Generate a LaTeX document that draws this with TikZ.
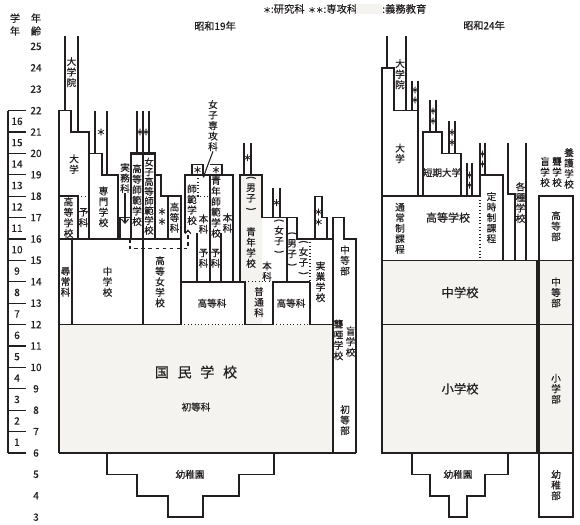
\documentclass[tikz,border=0pt]{standalone}
\usepackage{fontspec}
\setmainfont{Noto Sans CJK JP}[FakeBold=0.5]
\usetikzlibrary{arrows.meta}
\definecolor{ink}{RGB}{35,31,32}
\definecolor{gimu}{RGB}{244,243,240}
\newcommand{\upar}{\rotatebox[origin=c]{-90}{(}}
\newcommand{\dnpar}{\rotatebox[origin=c]{-90}{)}}
\newcommand{\lgstar}{{\fontsize{6.5}{6.5}\selectfont ＊}}
\begin{document}
\begin{tikzpicture}[x=0.3mm,y=6.42mm,
    wall/.style={draw=ink,line width=1.4pt},
    bold/.style={draw=ink,line width=1.9pt},
    rule/.style={draw=ink,line width=0.9pt},
    dots/.style={draw=ink,line width=0.9pt,dotted},
    lbl/.style={align=center,inner sep=0pt,text=ink,font=\fontsize{8.2}{9}\selectfont},
    tl/.style={inner sep=0pt,text=ink,font=\fontsize{10.5}{12}\selectfont},
    star/.style={align=center,inner sep=0pt,text=ink,font=\fontsize{7.5}{8.6}\selectfont}]
    \useasboundingbox (0,2.636) rectangle (580,27.168);
    % legend
    \node[lbl,anchor=west,font=\fontsize{8.8}{9}\selectfont](lgken) at (263,26.75) {\lgstar:研究科};
    \node[lbl,anchor=west,font=\fontsize{8.8}{9}\selectfont](lgsen) at (308,26.75) {\lgstar\lgstar:専攻科};
    \fill[gimu] (356,26.5) rectangle (382,26.98);
    \node[lbl,anchor=west,font=\fontsize{8.8}{9}\selectfont](lggimu) at (382,26.75) {:義務教育};
    \node[lbl,font=\fontsize{8.6}{9}\selectfont](t19) at (215,25.95) {昭和19年};
    \node[lbl,font=\fontsize{8.6}{9}\selectfont](t24) at (484,25.98) {昭和24年};
    % 学年・年齢
    \node[lbl,font=\fontsize{8.6}{11}\selectfont](hgaku) at (15,26.02) {学\\年};
    \node[lbl,font=\fontsize{8.6}{11}\selectfont](hnen) at (36,26.02) {年\\齢};
    \draw[rule] (8,22) -- (8,6);
    \foreach \a in {6,...,22} \draw[rule] (8,\a) -- (26,\a);
    \foreach \a in {3,...,25} \node[lbl,font=\fontsize{8.6}{9}\selectfont](age\a) at (36,\a) {\a};
    \foreach \g in {1,...,16} \node[lbl,font=\fontsize{8.6}{9}\selectfont](gr\g) at (17,\g+5.5) {\g};

    % ---- 昭和19年
    \fill[gimu] (59,6) rectangle (333,12);
    \fill[gimu] (240,14) rectangle (262,19);
    \fill[gimu] (245,12) rectangle (262,14);
    % 大学院・大学
    \draw[rule] (65,25.5) -- (65,22) (78,25.5) -- (78,21);
    \node[lbl](dgin19) at (71.5,23.8) {大\\学\\院};
    \draw[wall] (59,6) -- (59,22) -- (71,22) -- (71,21) -- (89,21) -- (89,16);
    \node[lbl](dai19) at (74,19.5) {大\\学};
    \draw[wall] (59,18) -- (78,18) -- (78,16);
    \draw[dots] (78,18) -- (89,18);
    \node[lbl](kokou19) at (68.5,17) {高\\等\\学\\校};
    \node[lbl](yoka19) at (83.5,17) {予\\科};
    \node[lbl](jinjo) at (65.5,14) {尋\\常\\科};
    % 専門学校
    \draw[rule] (95,22) -- (95,20) (107,22) -- (107,19);
    \node[star](ksenmon) at (101,21) {＊};
    \draw[wall] (89,20) -- (102,20) -- (102,19) -- (118,19) -- (118,16);
    \node[lbl](senmon) at (103.5,17.5) {専\\門\\学\\校};
    % 実務科
    \node[lbl](jitsumu) at (125,18.85) {実\\務\\科};
    \coordinate (jtip) at (125,16.7);
    \draw[rule,-{Straight Barb[length=3.5pt,width=6pt]}] (jitsumu) -- (jtip);
    \draw[wall] (120,16) -- (120,17) -- (131,17);
    % 高等師範学校
    \draw[rule] (137,22) -- (137,20) (143,22) -- (143,20) (149,22) -- (149,20);
    \node[star](kkshi) at (140,21) {＊};
    \node[star](kjshi) at (146,21) {＊};
    \draw[bold] (131,16) -- (131,20) -- (155,20) -- (155,16) (143,20) -- (143,16);
    \node[lbl](kshihan) at (137,18.05) {高\\等\\師\\範\\学\\校};
    \node[lbl,font=\fontsize{8}{8.3}\selectfont](jshihan) at (149,18) {女\\子\\高\\等\\師\\範\\学\\校};
    % 高等女学校 専攻科・高等科
    \draw[wall] (155,19) -- (161,19) -- (161,18) -- (168,18) -- (168,16);
    \node[star](skojo) at (162,17.05) {＊\\＊};
    \draw[wall] (168,18) -- (181,18) -- (181,12);
    \node[lbl](kotoka1) at (174.5,17) {高\\等\\科};
    % 中学校・高等女学校
    \draw[wall] (59,16) -- (181,16);
    \draw[wall] (72,16) -- (72,12) (143,16) -- (143,12);
    \node[lbl](chu19) at (107.5,14) {中\\学\\校};
    \node[lbl](kojo) at (160,14) {高\\等\\女\\学\\校};
    \draw[rule,dashed,-{Straight Barb[length=3pt,width=5pt]}] (130,16) -- (130,15.55) -- (188,15.55) -- (188,16.45);
    % 師範学校・青年師範学校
    \draw[rule] (192,19) -- (192,19.47) -- (203,19.47) -- (203,19);
    \node[star](kshihan2) at (197.5,19.23) {＊};
    \draw[rule] (210,19.47) -- (222,19.47) -- (222,19);
    \node[star](kseishi) at (216,19.23) {＊};
    \draw[bold] (185,16.3) -- (185,19) -- (233,19) -- (233,14) (210,19) -- (210,14);
    \draw[dots] (198,19) -- (198,18) -- (210,18);
    \draw[wall] (197,16.3) -- (197,14) (221,16.3) -- (221,14);
    \node[lbl](shihan) at (192,17.6) {師\\範\\学\\校};
    \node[lbl](honka1) at (203.5,16.7) {本\\科};
    \node[lbl](yoka2) at (203.5,15.1) {予\\科};
    \node[lbl](seishi) at (216,17.5) {青\\年\\師\\範\\学\\校};
    \node[lbl](honka2) at (227.5,16.75) {本\\科};
    \node[lbl](yoka3) at (215.5,15.1) {予\\科};
    \node[lbl](jsenko) at (213,21.3) {女\\子\\専\\攻\\科};
    \draw[rule,-{Stealth[length=3pt,width=2.5pt]}] (jsenko.south) -- (203,18.85);
    % 青年学校
    \draw[rule] (244,20.5) -- (244,19) (251,20.5) -- (251,19);
    \node[star](kseinen) at (247.5,19.8) {＊};
    \draw[rule] (273,18.4) -- (273,17) (280,18.4) -- (280,17);
    \node[star](kseinen2) at (276.5,17.7) {＊};
    \draw[wall] (240,14) -- (240,19) -- (262,19) -- (262,17) -- (297,17) -- (297,16) -- (333,16);
    \draw[wall] (287,17) -- (287,14);
    \node[lbl](danshi1) at (251,18.1) {\upar\\男\\子\\\dnpar};
    \node[lbl](seinen) at (251,15.6) {青\\年\\学\\校};
    \node[lbl](joshi1) at (279,16.1) {\upar\\女\\子\\\dnpar};
    \node[lbl](honka3) at (267,14.5) {本\\科};
    \node[lbl](danshi2) at (292,15.5) {\upar\\男\\子\\\dnpar};
    \node[lbl](joshi2) at (303.5,15.1) {\upar\\女\\子\\\dnpar};
    % 高等科・普通科
    \draw[wall] (181,14) -- (245,14) (273,14) -- (310,14);
    \draw[dots] (245,14) -- (273,14);
    \draw[wall] (245,14) -- (245,12) (273,14) -- (273,12) (310,14) -- (310,12);
    \draw[dots] (310,16) -- (310,14);
    \node[lbl](kotoka2) at (212,13) {高等科};
    \node[lbl](futsu) at (259,13.05) {普\\通\\科};
    \node[lbl](kotoka3) at (291,13) {高等科};
    % 実業学校
    \draw[rule] (315,16) -- (315,18) -- (322,18) -- (322,17) -- (327,17) -- (327,16);
    \node[star](sjitsu) at (318.5,17.03) {＊\\＊};
    \node[lbl](jitsugyo) at (320.5,14) {実\\業\\学\\校};
    % 盲・聾唖学校
    \draw[wall] (333,6) -- (333,17) -- (344,17) -- (344,16) -- (356,16) -- (356,6);
    \node[lbl](chubu19) at (345,15) {中\\等\\部};
    \node[lbl](roa) at (338.5,11.28) {聾\\唖\\学\\校};
    \node[lbl](mou19) at (350.5,11.2) {盲\\学\\校};
    \node[lbl](shobu19) at (345,7.54) {初\\等\\部};
    % 国民学校
    \draw[wall] (59,12) -- (181,12) (245,12) -- (273,12) (310,12) -- (333,12);
    \draw[dots] (181,12) -- (245,12) (273,12) -- (310,12);
    \draw[wall] (59,6) -- (356,6);
    \node[inner sep=0pt,text=ink,font=\fontsize{12}{12}\selectfont](kokumin) at (196,9.78) {国\hspace{2.6mm}民\hspace{2.6mm}学\hspace{2.6mm}校};
    \node[lbl](shoto) at (196,8.15) {初等科};
    % 幼稚園
    \draw[wall] (107,6) -- (107,5) -- (137,5) -- (137,4) -- (168,4) -- (168,3) -- (203,3) -- (203,4) -- (239,4) -- (239,5) -- (274,5) -- (274,6);
    \node[lbl](yochi19) at (190,5) {幼稚園};

    % ---- 昭和24年
    \fill[gimu] (382,6) rectangle (537,15);
    \fill[gimu] (539,6) rectangle (573,15);
    \draw[rule] (387,25.5) -- (387,24) (406,25.5) -- (406,22);
    \node[lbl](dgin24) at (400,23.7) {大\\学\\院};
    \draw[wall] (382,15) -- (382,24) -- (394,24) -- (394,22) -- (418,22) -- (418,18);
    \draw[rule] (412,23.4) -- (412,22) (418,23.4) -- (418,22);
    \node[star](sdai) at (415,22.73) {＊\\＊};
    \node[lbl](dai24) at (400,20) {大\\学};
    \draw[wall] (382,18) -- (480,18);
    % 短期大学
    \draw[wall] (423,18) -- (423,21) -- (442,21) -- (442,20) -- (461,20) -- (461,18);
    \draw[rule] (430,22.5) -- (430,21) (436,22.5) -- (436,21);
    \node[star](stan1) at (433,21.75) {＊\\＊};
    \draw[rule] (449,21.5) -- (449,20) (455,21.5) -- (455,20);
    \node[star](stan2) at (452,20.75) {＊\\＊};
    \node[lbl](tandai) at (442,19.1) {短期大学};
    % 高等学校
    \draw[rule] (467,19.55) -- (467,18) (472,19.55) -- (472,18);
    \node[star](skoko) at (469.5,18.75) {＊\\＊};
    \draw[rule] (480,20.5) -- (480,19) (485,20.5) -- (485,19);
    \node[star](steiji) at (482.5,19.74) {＊\\＊};
    \draw[wall] (480,18) -- (480,19) -- (503,19) -- (503,15);
    \draw[dots] (480,18) -- (480,15);
    \node[lbl](tsujo) at (400,16.5) {通\\常\\制\\課\\程};
    \node[lbl,font=\fontsize{9.4}{10}\selectfont](koko) at (448,17) {高等学校};
    \node[lbl](teiji) at (491.5,17) {定\\時\\制\\課\\程};
    % 各種学校
    \draw[wall] (508,20.5) -- (508,18.1) -- (515,18.1) -- (515,15);
    \draw[wall] (526,20.5) -- (526,15);
    \node[lbl](kakushu) at (520.5,17.7) {各\\種\\学\\校};
    % 中学校・小学校
    \draw[wall] (382,6) rectangle (537,15);
    \draw[wall] (382,12) -- (537,12);
    \node[tl](chu24) at (460,13.5) {中学校};
    \node[tl](sho24) at (460,9) {小学校};
    % 盲・聾・養護学校
    \draw[wall] (539,3) rectangle (573,18);
    \draw[wall] (539,15) -- (573,15) (539,12) -- (573,12) (539,6) -- (573,6);
    \node[lbl](mou24) at (545,19.13) {盲\\学\\校};
    \node[lbl](rou24) at (557,19.13) {聾\\学\\校};
    \node[lbl](yogo) at (569,19.3) {養\\護\\学\\校};
    \node[lbl](kobu) at (556,16.6) {高\\等\\部};
    \node[lbl](chubu24) at (556,13.5) {中\\等\\部};
    \node[lbl](shobu24) at (556,9) {小\\学\\部};
    \node[lbl](yobu) at (556,4.5) {幼\\稚\\部};
    % 幼稚園
    \draw[wall] (412,6) -- (412,5) -- (430,5) -- (430,4) -- (449,4) -- (449,3) -- (467,3) -- (467,4) -- (485,4) -- (485,5) -- (508,5) -- (508,6);
    \node[lbl](yochi24) at (458,5) {幼稚園};
\end{tikzpicture}
\end{document}
